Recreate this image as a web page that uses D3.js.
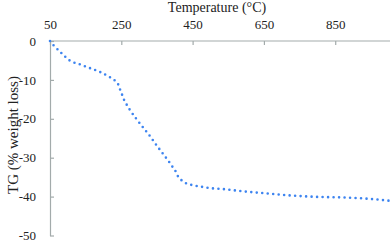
<!DOCTYPE html>
<html><head><meta charset="utf-8">
<script src="https://cdn.jsdelivr.net/npm/d3@7"></script>
<style>body{margin:0;background:#fff} text{font-family:"Liberation Serif","Times New Roman",Times,serif}</style>
</head><body>
<svg id="c" width="392" height="242"></svg>
<script>
const temperature = [50,59,82,105,134,163,191,218,231,241,247,253,258,266,274,292,311,330,348,367,385,394,403,409,419,432,447,477,508,539,586,647,723,807,863,948,1000];
const weightLoss = [0,-1.0,-3.1,-5.0,-6.0,-7.0,-8.0,-9.3,-10.1,-11.1,-12.6,-14.0,-15.2,-16.5,-17.7,-20.0,-22.2,-24.4,-26.7,-29.0,-31.2,-32.4,-33.6,-34.8,-35.8,-36.6,-37.0,-37.5,-37.9,-38.1,-38.6,-39.1,-39.7,-40.1,-40.2,-40.6,-41.05];
const xTicks = [50,250,450,650,850];
const yTicks = [0,-10,-20,-30,-40,-50];

const svg = d3.select("#c");
const x = d3.scaleLinear().domain([50,1000]).range([50,388.7]);
const y = d3.scaleLinear().domain([0,-50]).range([41,235.5]);
const axisColor = "#a3abab";

const gx = svg.append("g").attr("transform","translate(0,41)")
  .call(d3.axisTop(x).tickValues(xTicks).tickSizeInner(-4).tickSizeOuter(0).tickPadding(12).tickFormat(d3.format("d")));
const gy = svg.append("g").attr("transform","translate(50,0)")
  .call(d3.axisLeft(y).tickValues(yTicks).tickSizeInner(-4).tickSizeOuter(0).tickPadding(14).tickFormat(d=>d===0?"0":"-"+Math.abs(d)));
[gx,gy].forEach(g=>{
  g.attr("font-family",null).attr("font-size",null);
  g.select(".domain").attr("stroke",axisColor).attr("stroke-width",1.2);
  g.selectAll(".tick line").attr("stroke",axisColor).attr("stroke-width",1.2);
  g.selectAll(".tick text").attr("fill","#222").attr("font-size","13px");
});
gx.select(".domain").attr("d","M50,0H390");

svg.append("text").attr("x",217).attr("y",12).attr("text-anchor","middle")
  .attr("font-size","14px").attr("fill","#222").text("Temperature (°C)");
svg.append("text").attr("transform","translate(13,135) rotate(-90)").attr("text-anchor","middle")
  .attr("dy","0.35em").attr("font-size","15px").attr("fill","#222").text("TG (% weight loss)");

const line = d3.line().x((d,i)=>x(temperature[i])).y((d,i)=>y(weightLoss[i])).curve(d3.curveMonotoneX);
svg.append("path").datum(weightLoss).attr("d",line).attr("fill","none")
  .attr("stroke","#3d84f0").attr("stroke-width",2.6).attr("stroke-linecap","round")
  .attr("stroke-dasharray","0 5.5");
</script>
</body></html>
